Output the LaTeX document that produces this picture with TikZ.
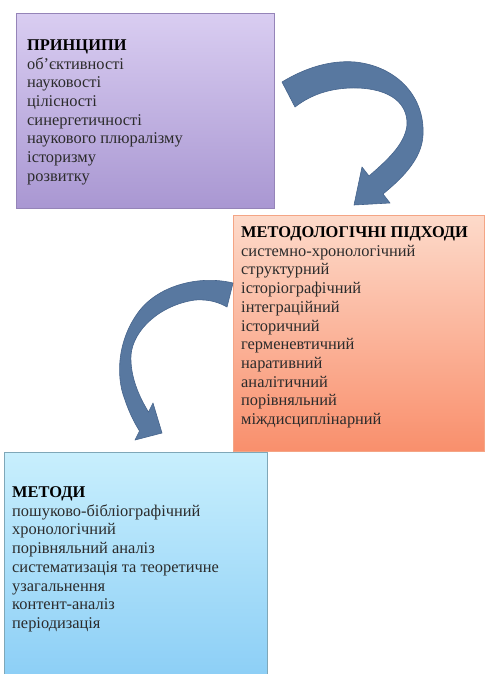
\documentclass[tikz,border=0pt]{standalone}
\usepackage{fontspec}
\setmainfont{Liberation Serif}
\definecolor{ptop}{HTML}{D9CDF1}
\definecolor{pbot}{HTML}{A997D2}
\definecolor{pbord}{HTML}{9584B8}
\definecolor{otop}{HTML}{FDDACA}
\definecolor{obot}{HTML}{F98F6C}
\definecolor{obord}{HTML}{F4A585}
\definecolor{btop}{HTML}{C8EFFD}
\definecolor{bbot}{HTML}{8DCFF6}
\definecolor{bbord}{HTML}{7FA7B8}
\definecolor{arrfill}{HTML}{5878A0}
\definecolor{arrdraw}{HTML}{46648C}
\definecolor{txt}{HTML}{2B2B2B}
\tikzset{
  panel/.style={rectangle, inner sep=0pt, anchor=north west, line width=0.8pt},
  paneltext/.style={anchor=north west, inner sep=0pt, align=left, text=txt,
    font=\fontsize{16.4}{18.7}\selectfont},
  bigarrow/.style={fill=arrfill, draw=arrdraw, line width=0.6pt, line join=round}
}
\begin{document}
\begin{tikzpicture}[x=1pt,y=-1pt]
\useasboundingbox (0,0) rectangle (485,674);
\fill[white] (0,0) rectangle (485,674);
% boxes
\node[panel, draw=pbord, top color=ptop, bottom color=pbot, minimum width=258pt, minimum height=195pt] (pr) at (16,13) {};
\node[panel, draw=obord, top color=otop, bottom color=obot, minimum width=251pt, minimum height=236pt] (md) at (233,215) {};
\node[panel, draw=bbord, top color=btop, bottom color=bbot, minimum width=263pt, minimum height=222pt] (me) at (4,452) {};
% texts
\node[paneltext] (prt) at (27,39.5) {\textcolor{black}{\textbf{ПРИНЦИПИ}}\\об’єктивності\\науковості\\цілісності\\синергетичності\\наукового плюралізму\\історизму\\розвитку};
\node[paneltext] (mdt) at (241,226.5) {\textcolor{black}{\textbf{МЕТОДОЛОГІЧНІ ПІДХОДИ}}\\системно-хронологічний\\структурний\\історіографічний\\інтеграційний\\історичний\\герменевтичний\\наративний\\аналітичний\\порівняльний\\міждисциплінарний};
\node[paneltext] (met) at (12,486.5) {\textcolor{black}{\textbf{МЕТОДИ}}\\пошуково-бібліографічний\\хронологічний\\порівняльний аналіз\\систематизація та теоретичне\\узагальнення\\контент-аналіз\\періодизація};
% arrow 1
\path[bigarrow] (282,82) .. controls (305,68) and (330,60) .. (355,62)
  .. controls (395,66) and (425,95) .. (423,135)
  .. controls (422,160) and (400,180) .. (383,194)
  -- (390,203) -- (354,205) -- (362,167) -- (369,176)
  .. controls (385,162) and (405,145) .. (407,125)
  .. controls (408,100) and (385,87) .. (350,88)
  .. controls (325,89) and (308,97) .. (295,107) -- cycle;
% arrow 2
\path[bigarrow] (233,283) .. controls (200,275) and (160,285) .. (140,310)
  .. controls (118,338) and (115,375) .. (125,400)
  .. controls (129,412) and (134,422) .. (139.5,431)
  -- (135,440) -- (162,433) -- (153,403) -- (148.5,412)
  .. controls (138,395) and (130,375) .. (131,355)
  .. controls (133,330) and (160,305) .. (195,300)
  .. controls (210,299) and (220,303) .. (227,307) -- cycle;
\end{tikzpicture}
\end{document}
